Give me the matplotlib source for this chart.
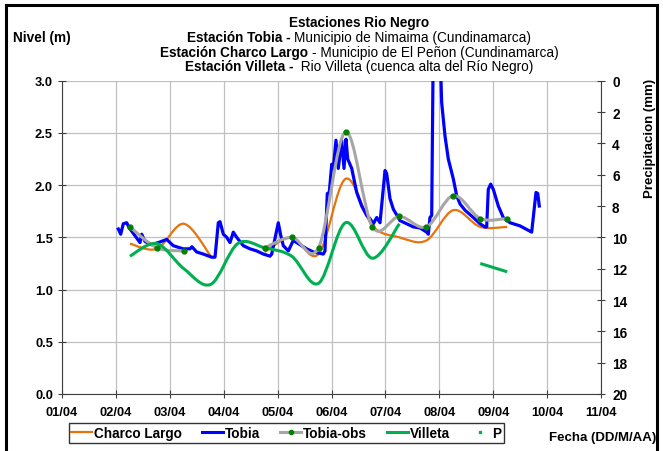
import numpy as np
import matplotlib
matplotlib.use("Agg")
import matplotlib.pyplot as plt
from matplotlib.path import Path
from matplotlib.patches import PathPatch
from matplotlib.lines import Line2D
from matplotlib.offsetbox import TextArea, HPacker, AnnotationBbox

plt.rcParams['font.family'] = ['Liberation Sans', 'DejaVu Sans']

# --- data ---
day_ticks = list(range(1, 12))
day_labels = [f"{d:02d}/04" for d in day_ticks]

# 12-hourly observation times (day of April)
obs_days = [2.26, 2.76, 3.26, 3.76, 4.26, 4.76, 5.26, 5.76, 6.26, 6.76,
            7.26, 7.76, 8.26, 8.76, 9.26]
nan = np.nan
tobia_obs = [1.60, 1.40, 1.37, nan, nan, 1.40, 1.50, 1.40, 2.51, 1.60,
             1.70, 1.60, 1.90, 1.68, 1.68]
charco_largo = [1.44, 1.39, 1.63, 1.32, nan, 1.36, 1.50, 1.34, 2.06, 1.61,
                1.50, 1.47, 1.76, 1.60, 1.60]
villeta = [1.32, 1.44, 1.20, 1.05, 1.44, 1.40, 1.32, 1.06, 1.64, 1.30,
           1.63, nan, nan, 1.25, 1.17]

# Tobia continuous record
tobia_days = [2.045, 2.089, 2.137, 2.200, 2.249, 2.447, 2.479, 2.540, 2.664,
              2.787, 2.942, 3.065, 3.250, 3.375, 3.41, 3.499, 3.622, 3.777,
              3.839, 3.900, 3.931, 3.993, 4.056, 4.117, 4.178, 4.241, 4.364,
              4.488, 4.612, 4.735, 4.859, 4.891, 5.013, 5.058, 5.106, 5.199,
              5.291, 5.384, 5.540, 5.662, 5.848, 5.879, 5.922, 5.959, 6.004,
              6.033, 6.083, 6.126, 6.189, 6.232, 6.269, 6.301, 6.375, 6.468,
              6.560, 6.653, 6.714, 6.776, 6.839, 6.900, 6.993, 7.024, 7.085,
              7.147, 7.271, 7.395, 7.518, 7.642, 7.766, 7.796, 7.827, 7.859,
              7.889, 7.96, 8.013, 8.044, 8.106, 8.167, 8.260, 8.322, 8.384,
              8.477, 8.631, 8.755, 8.848, 8.879, 8.909, 8.954, 9.002, 9.095,
              9.187, 9.312, 9.497, 9.714, 9.794, 9.826, 9.855]
tobia = [1.58, 1.53, 1.63, 1.64, 1.59, 1.45, 1.53, 1.46, 1.43,
         1.45, 1.48, 1.42, 1.39, 1.39, 1.41, 1.36, 1.34, 1.31,
         1.31, 1.64, 1.65, 1.53, 1.50, 1.45, 1.55, 1.50, 1.42,
         1.39, 1.37, 1.34, 1.32, 1.34, 1.64, 1.52, 1.42, 1.37,
         1.47, 1.44, 1.39, 1.36, 1.34, 1.37, 1.92, 1.93, 2.20,
         2.16, 2.43, 2.16, 2.43, 2.16, 2.44, 2.25, 2.16, 1.93,
         1.80, 1.71, 1.68, 1.63, 1.69, 1.64, 2.14, 2.11, 1.87,
         1.77, 1.66, 1.63, 1.60, 1.59, 1.55, 1.53, 1.69, 1.71,
         3.40, 3.70, 3.30, 2.79, 2.47, 2.25, 2.06, 1.90, 1.82,
         1.76, 1.69, 1.63, 1.60, 1.60, 1.96, 2.01, 1.96, 1.80,
         1.69, 1.64, 1.61, 1.55, 1.93, 1.92, 1.80]

# precipitation: no values recorded in the period
precip_days = []
precip = []

C_ORANGE = '#E8720C'
C_BLUE = '#0000FF'
C_GRAY = '#A6A6A6'
C_GREEN = '#00B050'
C_DOT = '#008000'
FS = 9.8


def smooth_path(xs, ys):
    """Excel-style smoothed line as cubic Bezier segments, broken at NaNs."""
    verts, codes = [], []
    runs, cur = [], []
    for x, y in zip(xs, ys):
        if np.isnan(y):
            if cur:
                runs.append(cur)
            cur = []
        else:
            cur.append((x, y))
    if cur:
        runs.append(cur)
    for run in runs:
        p = np.array(run, dtype=float)
        n = len(p)
        if n < 2:
            continue
        verts.append(p[0])
        codes.append(Path.MOVETO)
        for i in range(n - 1):
            pm = p[i - 1] if i > 0 else p[i]
            pp = p[i + 2] if i + 2 < n else p[i + 1]
            c1 = p[i] + (p[i + 1] - pm) / 6.0
            c2 = p[i + 1] - (pp - p[i]) / 6.0
            verts += [c1, c2, p[i + 1]]
            codes += [Path.CURVE4] * 3
    return Path(verts, codes)


fig = plt.figure(figsize=(6.63, 4.52), dpi=100)
W, H = 663, 452
ax = fig.add_axes([62 / W, 1 - 395 / H, (601 - 62) / W, (395 - 81.7) / H])
ax.set_xlim(1, 11)
ax.set_ylim(0, 3)

ax.add_patch(PathPatch(smooth_path(obs_days, charco_largo), fill=False,
                       edgecolor=C_ORANGE, lw=1.6, zorder=3))
ax.plot(tobia_days, tobia, color=C_BLUE, lw=2.3, zorder=4,
        solid_joinstyle='round')
ax.add_patch(PathPatch(smooth_path(obs_days, tobia_obs), fill=False,
                       edgecolor=C_GRAY, lw=2.2, zorder=5))
ax.plot(obs_days, tobia_obs, ls='none', marker='o', ms=3.5, color=C_DOT,
        zorder=6)
ax.add_patch(PathPatch(smooth_path(obs_days, villeta), fill=False,
                       edgecolor=C_GREEN, lw=2.2, zorder=5))

ax.set_xticks(day_ticks)
ax.set_xticklabels(day_labels)
ax.set_yticks(np.arange(0, 3.01, 0.5))
ax.set_yticklabels([f"{v:.1f}" for v in np.arange(0, 3.01, 0.5)])
ax.grid(True, color='#C0C0C0', lw=0.9)
ax.set_axisbelow(True)
for s in ['top', 'right']:
    ax.spines[s].set_visible(False)
for s in ['left', 'bottom']:
    ax.spines[s].set_color('#404040')
ax.tick_params(direction='inout', length=6, color='#404040', labelsize=9.3)
ax.tick_params(axis='x', pad=6)
for lab in ax.get_xticklabels() + ax.get_yticklabels():
    lab.set_fontweight('bold')

ax2 = ax.twinx()
ax2.set_ylim(20, 0)
ax2.set_yticks(range(0, 21, 2))
ax2.plot(precip_days, precip, ls='none', marker='s', ms=2, color=C_GREEN)
for s in ['top', 'left', 'bottom']:
    ax2.spines[s].set_visible(False)
ax2.spines['right'].set_color('#404040')
ax2.tick_params(direction='inout', length=6, color='#404040', labelsize=9.8,
                pad=5)
for lab in ax2.get_yticklabels():
    lab.set_fontweight('bold')

# legend
handles = [
    Line2D([], [], color=C_ORANGE, lw=1.6),
    Line2D([], [], color=C_BLUE, lw=2.2),
    Line2D([], [], color=C_GRAY, lw=2.2, marker='o', ms=3, mfc=C_DOT,
           mec=C_DOT),
    Line2D([], [], color=C_GREEN, lw=2.2),
    Line2D([], [], ls='none', marker='s', ms=1.8, color=C_GREEN),
]
leg = fig.legend(handles, ['Charco Largo', 'Tobia', 'Tobia-obs', 'Villeta', 'P'],
                 loc='center', bbox_to_anchor=((66 + 507) / 2 / W, 1 - 434 / H),
                 ncol=5, frameon=True, fancybox=False, handlelength=1.5,
                 handletextpad=0.15, columnspacing=1.5, borderpad=0.2,
                 borderaxespad=0, prop=dict(weight='bold', size=FS))
leg.get_frame().set_edgecolor('black')
leg.get_frame().set_linewidth(1.0)

# axis titles
fig.text(13 / W, 1 - 38 / H, 'Nivel (m)', fontsize=FS, fontweight='bold',
         ha='left', va='center')
fig.text(650 / W, 1 - 138 / H, 'Precipitacion (mm)', fontsize=9.5,
         fontweight='bold', rotation=90, ha='center', va='center')
fig.text(603 / W, 1 - 438 / H, 'Fecha (DD/M/AA)', fontsize=9.5,
         fontweight='bold', ha='center', va='center')

# title block with mixed weights
title_lines = [
    [('Estaciones Rio Negro', 'bold')],
    [('Estación Tobia - ', 'bold'), ('Municipio de Nimaima (Cundinamarca)', 'normal')],
    [('Estación Charco Largo ', 'bold'), ('- Municipio de El Peñon (Cundinamarca)', 'normal')],
    [('Estación Villeta - ', 'bold'), (' Rio Villeta (cuenca alta del Río Negro)', 'normal')],
]
title_y = [23, 38, 52.5, 67]
for parts, ypx in zip(title_lines, title_y):
    areas = [TextArea(t, textprops=dict(fontsize=FS, fontweight=w))
             for t, w in parts]
    box = HPacker(children=areas, align='baseline', pad=0, sep=0)
    ab = AnnotationBbox(box, (359 / W, 1 - ypx / H), xycoords='figure fraction',
                        frameon=False, box_alignment=(0.5, 0.5), pad=0)
    fig.add_artist(ab)

# outer frame of the chart area
frame_kw = dict(color='black', lw=2.2, transform=fig.transFigure)
fig.add_artist(Line2D([6 / W, 6 / W], [0, 1 - 6 / H], **frame_kw))
fig.add_artist(Line2D([6 / W, 657 / W], [1 - 6 / H, 1 - 6 / H], **frame_kw))
fig.add_artist(Line2D([657 / W, 657 / W], [0, 1 - 6 / H], **frame_kw))

fig.savefig('out.png', dpi=100)
